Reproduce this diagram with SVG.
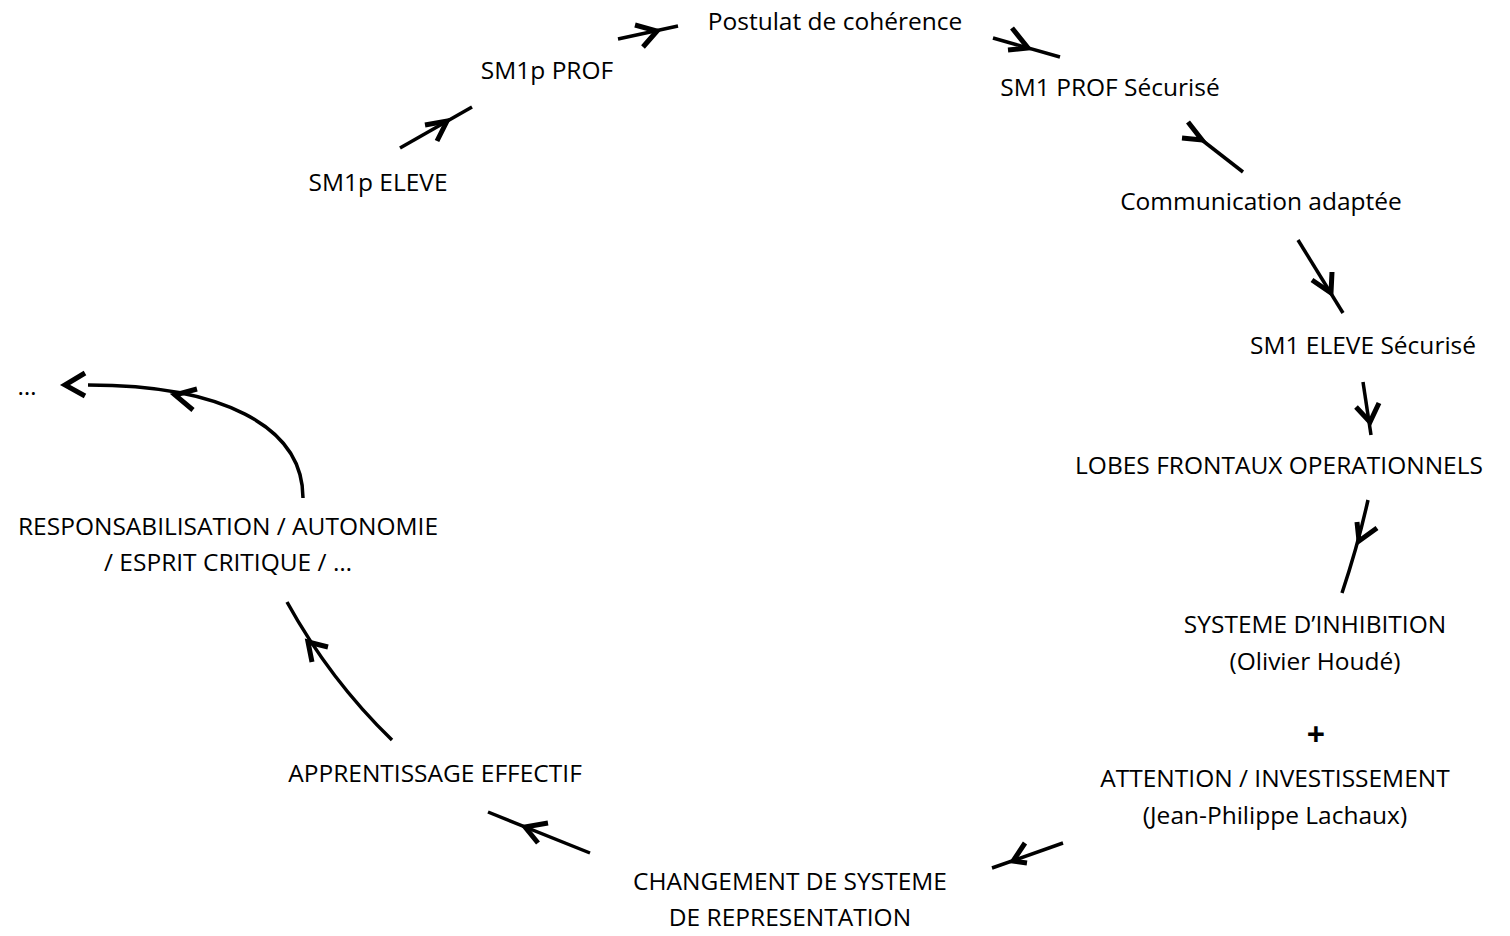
<svg xmlns="http://www.w3.org/2000/svg" width="1510" height="936" viewBox="0 0 1510 936">
<style>
text{font-family:"Open Sans","Liberation Sans",Arial,sans-serif;font-size:24.5px;fill:#000;text-anchor:middle}
.ln{fill:none;stroke:#000;stroke-width:3.5}
.hd{fill:none;stroke:#000;stroke-width:5;stroke-linejoin:miter;stroke-linecap:butt}
.plus{font-weight:bold;font-size:32px}
</style>
<rect width="1510" height="936" fill="#fff"/>
<g id="connectors">
<path class="ln" d="M400,148 L472,107"/><path class="hd" d="M425,125 L447,121 L437,141"/>
<path class="ln" d="M618,39 L678,26"/><path class="hd" d="M635,25 L657,31 L643,47"/>
<path class="ln" d="M993,38 L1060,57"/><path class="hd" d="M1012,28 L1028,48 L1008,50"/>
<path class="ln" d="M1198,137 L1243,172"/><path class="hd" d="M1188,122 L1202,140 L1182,138"/>
<path class="ln" d="M1298,240 L1343,313"/><path class="hd" d="M1312,280 L1331,293 L1332,272"/>
<path class="ln" d="M1363,382 L1371,435"/><path class="hd" d="M1356,407 L1370,422 L1379,403"/>
<path class="ln" d="M1368,500 Q1358,545 1342,593"/><path class="hd" d="M1357,522 L1359,541 L1377,528"/>
<path class="ln" d="M1063,843 L992,868"/><path class="hd" d="M1025,843 L1013,861 L1027,863"/>
<path class="ln" d="M590,853 L488,812"/><path class="hd" d="M548,823 L525,827 L538,843"/>
<path class="ln" d="M392,740 Q330,680 287,602"/><path class="hd" d="M328,647 L308,642 L312,662"/>
<path class="ln" d="M303,498 C303,425 220,385 88,385"/><path class="hd" d="M197,389 L175,395 L193,410"/>
<path class="hd" d="M85,373 L65,385 L85,396"/>
</g>
<g id="n-postulat"><text x="835" y="30">Postulat de cohérence</text></g>
<g id="n-sm1p-prof"><text x="547" y="79">SM1p PROF</text></g>
<g id="n-sm1-prof"><text x="1110" y="96">SM1 PROF Sécurisé</text></g>
<g id="n-sm1p-eleve"><text x="378" y="191">SM1p ELEVE</text></g>
<g id="n-communication"><text x="1261" y="210">Communication adaptée</text></g>
<g id="n-sm1-eleve"><text x="1363" y="354">SM1 ELEVE Sécurisé</text></g>
<g id="n-lobes"><text x="1279" y="474">LOBES FRONTAUX OPERATIONNELS</text></g>
<g id="n-inhibition">
<text x="1315" y="633">SYSTEME D’INHIBITION</text>
<text x="1315" y="670">(Olivier Houdé)</text>
<text class="plus" x="1316" y="746">+</text>
<text x="1275" y="787">ATTENTION / INVESTISSEMENT</text>
<text x="1275" y="824">(Jean-Philippe Lachaux)</text>
</g>
<g id="n-changement">
<text x="790" y="890">CHANGEMENT DE SYSTEME</text>
<text x="790" y="926">DE REPRESENTATION</text>
</g>
<g id="n-apprentissage"><text x="435" y="782">APPRENTISSAGE EFFECTIF</text></g>
<g id="n-responsabilisation">
<text x="228" y="535">RESPONSABILISATION / AUTONOMIE</text>
<text x="228" y="571">/ ESPRIT CRITIQUE / …</text>
</g>
<g id="n-etc"><text x="27" y="395">…</text></g>
</svg>
